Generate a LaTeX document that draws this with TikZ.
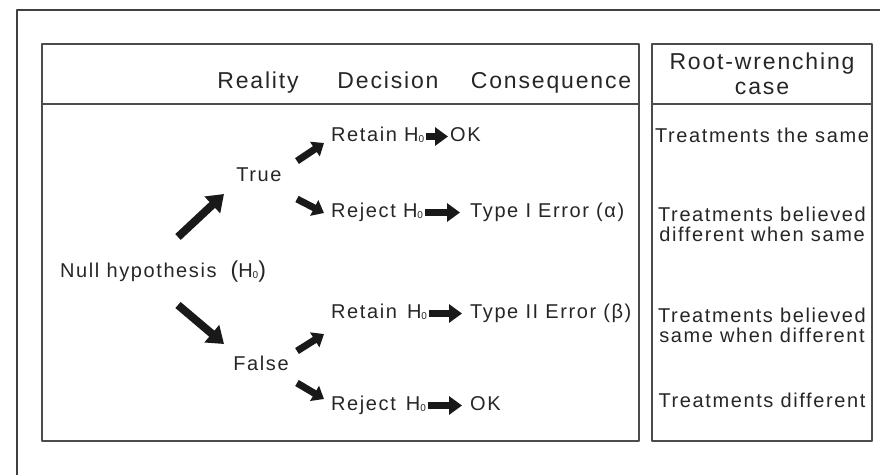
\documentclass[tikz,border=0pt]{standalone}
\usepackage{fontspec}
\setmainfont{Liberation Sans}[LetterSpace=8]
\usetikzlibrary{arrows.meta}
\newcommand\Hnull{H\raisebox{-1.5pt}{\fontsize{10}{10}\selectfont 0}}
\begin{document}
\begin{tikzpicture}[x=1pt,y=-1pt, line join=round, font=\fontsize{20}{20}\selectfont,
    txt/.style={inner sep=2pt, text=black!85, text height=13pt, text depth=4pt},
    cell/.style={inner sep=2pt, text=black!85, align=center},
    head/.style={txt, font=\fontsize{23}{26}\selectfont, text height=16pt, text depth=5pt},
    frame/.style={draw=black!70, line width=1.2pt},
    bigarrow/.style={draw=black!90, line width=8pt, -{Triangle[length=16pt,width=22pt]}},
    smallarrow/.style={draw=black!90, line width=7pt, -{Triangle[length=11pt,width=17pt]}},
    flatarrow/.style={draw=black!90, line width=7pt, -{Triangle[length=13pt,width=18pt]}}]
\useasboundingbox (0,0) rectangle (880,475);
% frames
\draw[black!75, line width=2.5pt] (17,475) -- (17,10) -- (880,10);
\draw[frame] (42,44) rectangle (639,441) (42,104) -- (639,104);
\draw[frame] (652,44) rectangle (872,441) (652,104) -- (872,104);
% column heads
\node[head, anchor=base] (real) at (258,88) {Reality};
\node[head, anchor=base] (deci) at (388,88) {Decision};
\node[head, anchor=base] (cons) at (551,88) {Consequence};
\node[cell, font=\fontsize{23}{25}\selectfont] (root) at (762,74) {Root-wrenching\\case};
% tree
\node[txt, anchor=base west] (null) at (58,277) {Null hypothesis\hspace{14pt}{\fontsize{23}{23}\selectfont(}\Hnull{\fontsize{23}{23}\selectfont)}};
\node[txt, anchor=base] (true) at (259,181) {True};
\node[txt, anchor=base] (false) at (261,370) {False};
\node[txt, anchor=base west] (ret1) at (329,141) {Retain \Hnull};
\node[txt, anchor=base west] (rej1) at (329,217) {Reject \Hnull};
\node[txt, anchor=base west] (ret2) at (329,318) {Retain\hspace{10pt}\Hnull};
\node[txt, anchor=base west] (rej2) at (329,410) {Reject\hspace{10pt}\Hnull};
\node[txt, anchor=base west] (ok1) at (448,141) {OK};
\node[txt, anchor=base west] (err1) at (468,217) {Type I Error (α)};
\node[txt, anchor=base west] (err2) at (468,318) {Type II Error (β)};
\node[txt, anchor=base west] (ok2) at (468,410) {OK};
% cases
\node[txt, anchor=base] (same) at (762,142) {Treatments the same};
\node[cell] (alpha) at (762,224) {Treatments believed\\different when same};
\node[cell] (beta) at (762,325) {Treatments believed\\same when different};
\node[txt, anchor=base] (diff) at (762,407) {Treatments different};
% arrows
\coordinate (n1) at (178,237); \coordinate (t0) at (224,194);
\coordinate (n2) at (178,305); \coordinate (f0) at (224,344);
\coordinate (t1) at (297,161); \coordinate (t2) at (324,143);
\coordinate (t3) at (297,199); \coordinate (t4) at (324,213);
\coordinate (f1) at (297,351); \coordinate (f2) at (324,334);
\coordinate (f3) at (297,383); \coordinate (f4) at (324,399);
\draw[bigarrow] (n1) -- (t0);
\draw[bigarrow] (n2) -- (f0);
\draw[smallarrow] (t1) -- (t2);
\draw[smallarrow] (t3) -- (t4);
\draw[smallarrow] (f1) -- (f2);
\draw[smallarrow] (f3) -- (f4);
\draw[flatarrow] (ret1.east) -- (ok1.west);
\draw[flatarrow, shorten >=8pt] (rej1.east) -- (err1.west);
\draw[flatarrow, shorten >=6pt] (ret2.east) -- (err2.west);
\draw[flatarrow, shorten >=6pt] (rej2.east) -- (ok2.west);
\end{tikzpicture}
\end{document}
